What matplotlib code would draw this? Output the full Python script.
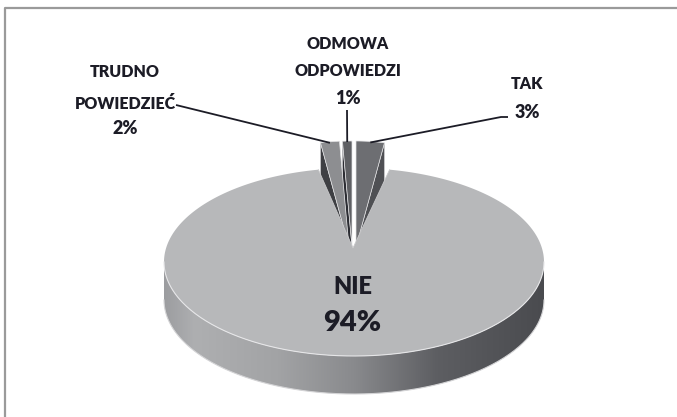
import numpy as np
import matplotlib
matplotlib.use("Agg")
import matplotlib.pyplot as plt
from matplotlib.patches import Polygon
from matplotlib.colors import LinearSegmentedColormap

# data, clockwise from 12 o'clock
labels = ["TAK", "NIE", "TRUDNO\nPOWIEDZIEĆ", "ODMOWA\nODPOWIEDZI"]
values = [3, 94, 2, 1]

# layout (pixels)
W, H = 677, 417
CX, CY, RX, RY, DEPTH = 354, 262, 190, 94, 38      # main disc
PX, PY = 353, 248                                   # projected pie centre
SRX, SRY, SPREAD = 152, 106, 0.21                   # raised small slices

top_colors = {"TAK": "#6d6e72", "NIE": "#b7b8ba",
              "TRUDNO\nPOWIEDZIEĆ": "#8d8e91", "ODMOWA\nODPOWIEDZI": "#5f6064"}
wall_colors = {"TAK": "#4f5054", "TRUDNO\nPOWIEDZIEĆ": "#3e3f43",
               "ODMOWA\nODPOWIEDZI": "#2c2d33"}
text_color = "#1c1c26"
font = ["Lato", "DejaVu Sans"]
weight = "heavy"

# label line positions: (x, [y of each name line], y of percent)
label_pos = {
    "TAK": (527, [84], 112),
    "TRUDNO\nPOWIEDZIEĆ": (125, [72, 104], 128),
    "ODMOWA\nODPOWIEDZI": (348, [44, 71], 98),
}
leader_start = {
    "TAK": [(508, 117), (501, 117)],
    "TRUDNO\nPOWIEDZIEĆ": [(176, 105)],
    "ODMOWA\nODPOWIEDZI": [(347, 110)],
}


def ell(t, cx, cy, rx, ry):
    t = np.radians(t)
    return cx + rx * np.sin(t), cy - ry * np.cos(t)


def arc(a, b, cx, cy, rx, ry, n=200):
    t = np.linspace(a, b, n)
    x, y = ell(t, cx, cy, rx, ry)
    return np.column_stack([x, y])


fig = plt.figure(figsize=(W / 100, H / 100), dpi=100)
ax = fig.add_axes([0, 0, 1, 1])

total = sum(values)
starts = np.cumsum([0] + values[:-1]) / total * 360
ends = np.cumsum(values) / total * 360

# small raised slices first (they sit behind the big one)
tops = []
for lab, a, b in zip(labels, starts, ends):
    if lab == "NIE":
        continue
    m = (a + b) / 2
    ox = PX + SPREAD * SRX * np.sin(np.radians(m))
    oy = PY - 1
    for edge, normal in ((a, a - 90), (b, b + 90)):
        if np.cos(np.radians(normal)) < -1e-6:
            ex, ey = ell(edge, ox, oy, SRX, SRY)
            wall = [(ox, oy), (ex, ey), (ex, ey + DEPTH), (ox, oy + DEPTH)]
            ax.add_patch(Polygon(wall, closed=True, fc=wall_colors[lab],
                                 ec="#d8d8da", lw=0.4, zorder=1))
    pts = np.vstack([[ox, oy], arc(a, b, ox, oy, SRX, SRY, 40)])
    tops.append(Polygon(pts, closed=True, fc=top_colors[lab],
                        ec="#e4e4e6", lw=0.5, zorder=2))
    mx, my = ell(m, ox, oy, SRX, SRY)
    line = leader_start[lab] + [(mx, my + 1)]
    lx, ly = zip(*line)
    ax.plot(lx, ly, color=text_color, lw=1.3, zorder=6, solid_capstyle="butt")
for p in tops:
    ax.add_patch(p)

# big slice: side with gradient
i = labels.index("NIE")
a, b = starts[i], ends[i]
front = arc(90, 270, CX, CY, RX, RY)
side = np.vstack([front, front[::-1] + [0, DEPTH]])
side_patch = Polygon(side, closed=True, fc="none", ec="none", zorder=3)
ax.add_patch(side_patch)
cmap = LinearSegmentedColormap.from_list("side", [
    (0.0, "#9c9da0"), (0.08, "#aeafb1"), (0.3, "#a2a3a5"),
    (0.5, "#898a8d"), (0.72, "#5d5e62"), (1.0, "#4a4b4f")])
grad = np.linspace(0, 1, 256).reshape(1, -1)
im = ax.imshow(grad, extent=[CX - RX, CX + RX, CY + RY + DEPTH + 2, CY - 4],
               aspect="auto", cmap=cmap, zorder=3, interpolation="bilinear")
im.set_clip_path(side_patch)
ax.plot(front[:, 0], front[:, 1] + DEPTH, color="#d4d4d6", lw=0.8, zorder=3)

# big slice: top face with notch
top = np.vstack([[PX, PY], arc(a, b, CX, CY, RX, RY, 400)])
ax.add_patch(Polygon(top, closed=True, fc=top_colors["NIE"],
                     ec="none", zorder=4))
ax.plot(front[:, 0], front[:, 1], color="#e6e6e8", lw=0.8, zorder=4)
ax.plot(*zip(*[ell(a, CX, CY, RX, RY), (PX, PY), ell(b, CX, CY, RX, RY)]),
        color="#c8c8ca", lw=0.6, zorder=4)

# labels
ax.text(CX - 1, 287, "NIE", ha="center", va="center", fontsize=17,
        fontweight=weight, color=text_color, family=font, zorder=7)
ax.text(CX - 2, 323, f"{values[i]}%", ha="center", va="center", fontsize=21,
        fontweight=weight, color=text_color, family=font, zorder=7)
for lab, v in zip(labels, values):
    if lab == "NIE":
        continue
    x, ys, yp = label_pos[lab]
    for part, y in zip(lab.split("\n"), ys):
        ax.text(x, y, part, ha="center", va="center", fontsize=11.5,
                fontweight=weight, color=text_color, family=font, zorder=7)
    ax.text(x, yp, f"{v}%", ha="center", va="center", fontsize=13,
            fontweight=weight, color=text_color, family=font, zorder=7)

# chart frame (top and left edges visible)
ax.plot([5, 5, W], [H, 8, 8], color="#9a9a9a", lw=1.6, zorder=8)

ax.set_xlim(0, W)
ax.set_ylim(H, 0)
ax.axis("off")
fig.savefig("out.png", dpi=100, facecolor="white")
